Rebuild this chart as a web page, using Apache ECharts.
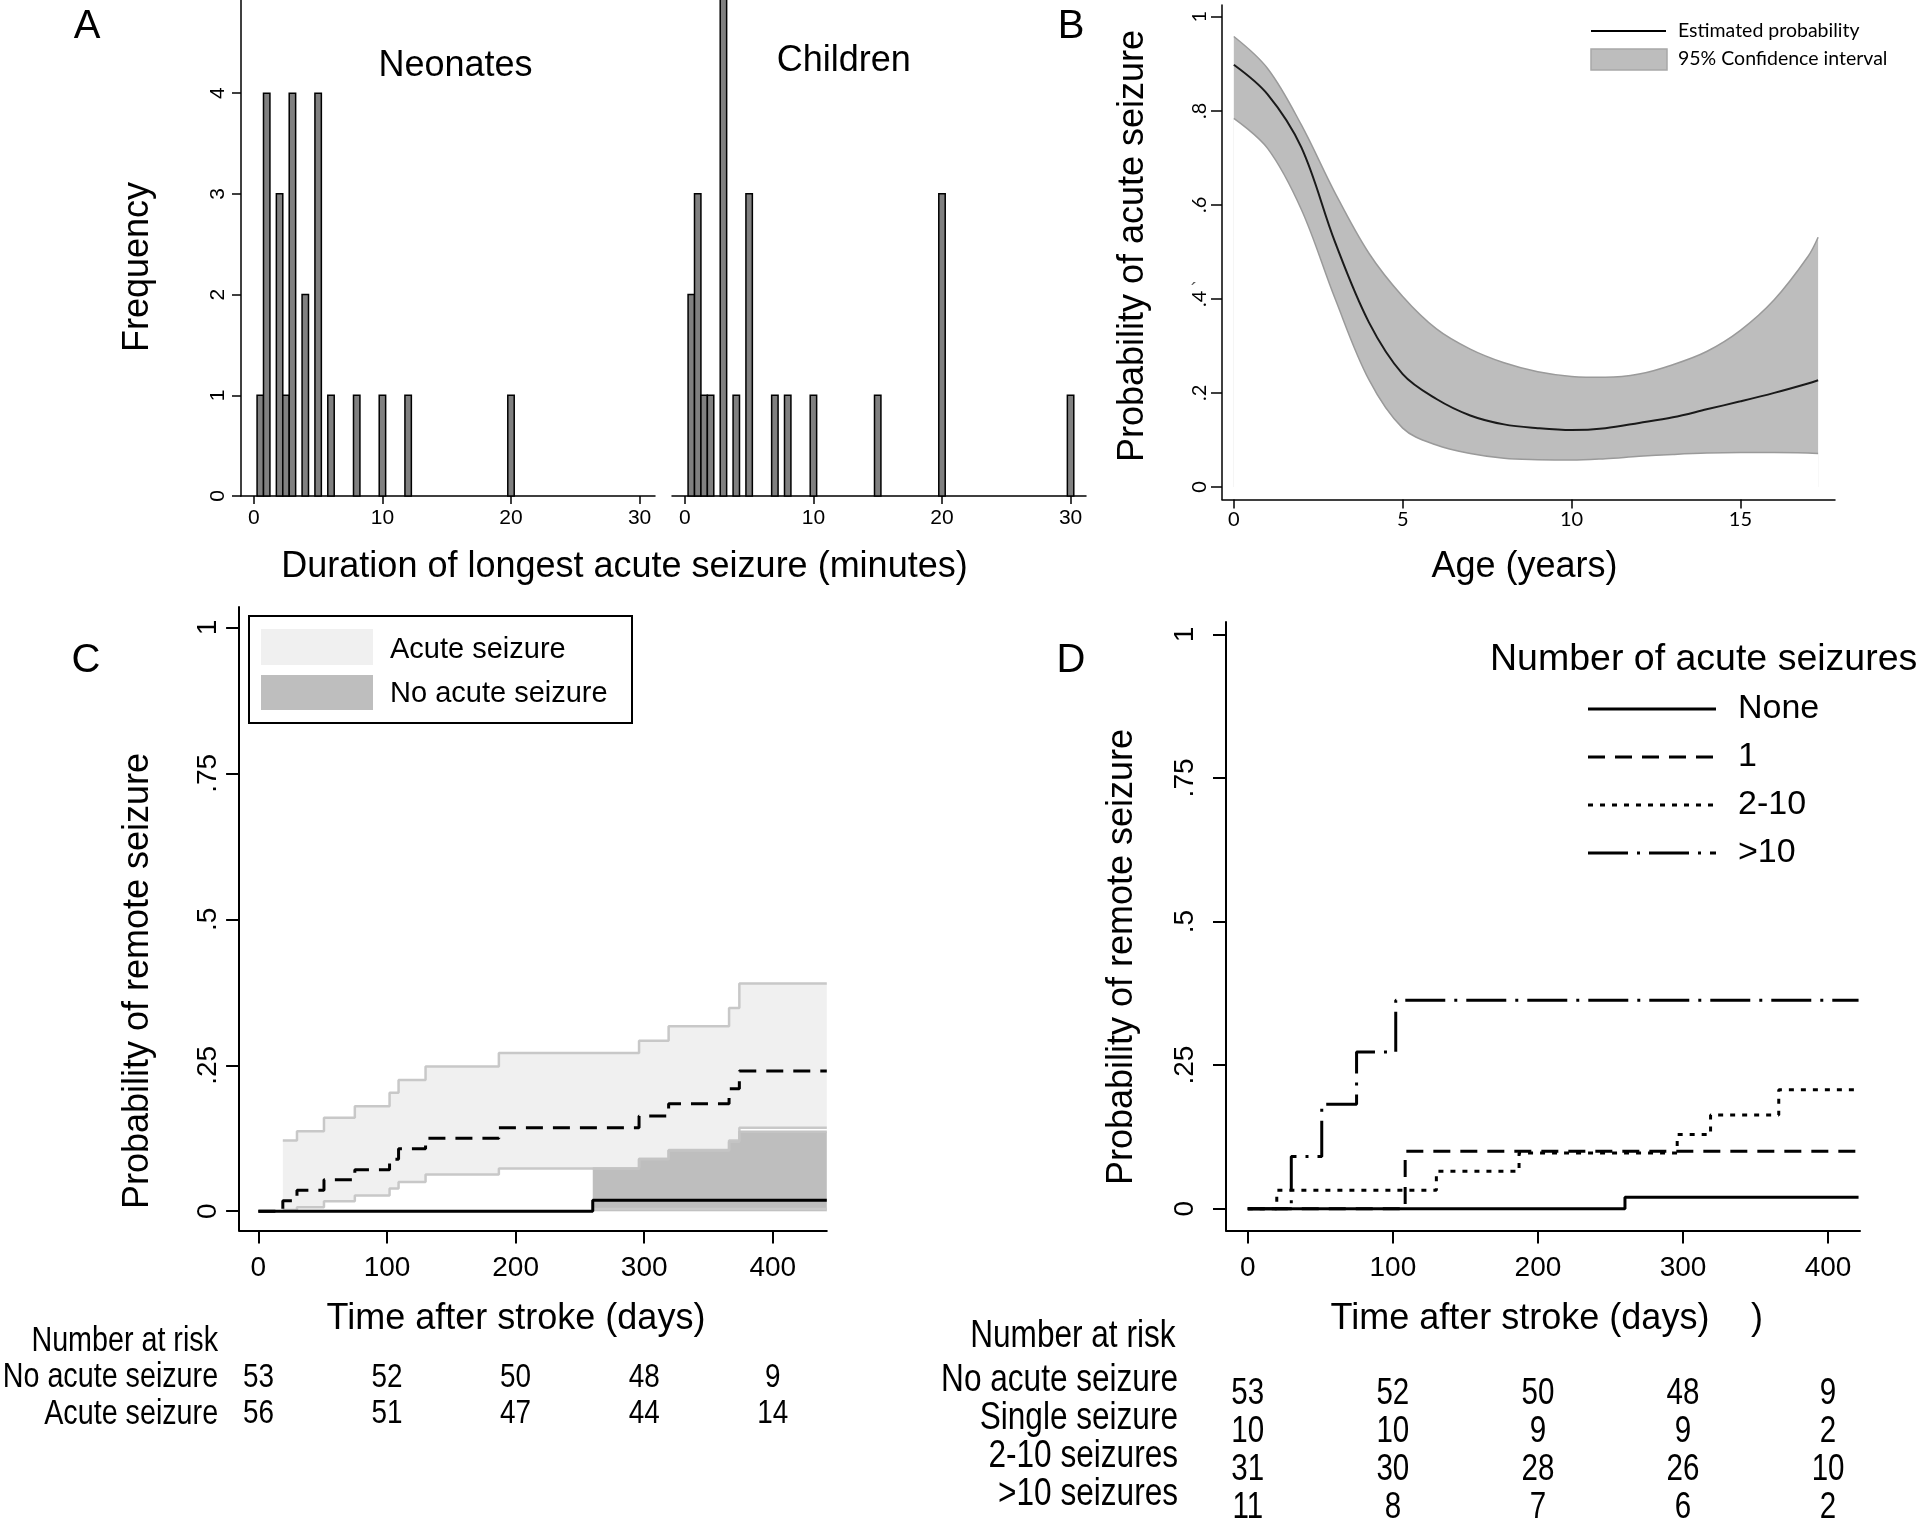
<!DOCTYPE html>
<html><head><meta charset="utf-8">
<script src="https://cdn.jsdelivr.net/npm/echarts@6/dist/echarts.min.js"></script>
<style>html,body{margin:0;padding:0;background:#fff}#c{width:1920px;height:1521px}</style>
</head><body><div id="c"></div>
<script>
// ---------- Panel A : histograms ----------
const neonatesDur  = [0.5, 1, 2, 2.5, 3, 4, 5, 6, 8, 10, 12, 20];
const neonatesFreq = [1, 4, 3, 1, 4, 2, 4, 1, 1, 1, 1, 1];
const childrenDur  = [0.5, 1, 1.5, 2, 3, 4, 5, 7, 8, 10, 15, 20, 30];
const childrenFreq = [2, 3, 1, 1, 5, 1, 3, 1, 1, 1, 1, 3, 1];
const durTicks  = [0, 10, 20, 30];
const freqTicks = [0, 1, 2, 3, 4];

// ---------- Panel B : probability by age ----------
const ageYears  = [0, 1, 2, 3, 4, 5, 6, 7, 8, 9, 10, 11, 12, 13, 14, 15, 16, 17, 17.3];
const probEst   = [0.898, 0.835, 0.722, 0.52, 0.35, 0.24, 0.187, 0.152, 0.133, 0.125, 0.121, 0.125, 0.136, 0.148, 0.165, 0.182, 0.2, 0.22, 0.227];
const probUpper = [0.958, 0.89, 0.77, 0.625, 0.497, 0.405, 0.336, 0.293, 0.264, 0.245, 0.235, 0.233, 0.24, 0.26, 0.288, 0.333, 0.398, 0.49, 0.531];
const probLower = [0.784, 0.72, 0.59, 0.40, 0.228, 0.125, 0.089, 0.071, 0.061, 0.058, 0.057, 0.06, 0.065, 0.069, 0.072, 0.073, 0.073, 0.072, 0.071];
const ageTicks  = [0, 5, 10, 15];
const probTicks = [0, 0.2, 0.4, 0.6, 0.8, 1];
const probTickLabels = ['0', '.2', '.4', '.6', '.8', '1'];

// ---------- Panel C : KM by acute seizure ----------
const kmAcuteTimes = [0, 19, 30, 51, 75, 102, 109, 130, 187, 296, 319, 366, 374, 442];
const kmAcuteVals  = [0, 0.018, 0.036, 0.054, 0.071, 0.089, 0.107, 0.125, 0.143, 0.163, 0.184, 0.21, 0.24, 0.24];
const ciAcuteTimes = [19, 30, 51, 75, 102, 109, 130, 187, 296, 319, 366, 374, 442];
const ciAcuteUpper = [0.121, 0.137, 0.16, 0.18, 0.203, 0.225, 0.248, 0.271, 0.292, 0.317, 0.348, 0.39, 0.39];
const ciAcuteLower = [0.002, 0.007, 0.017, 0.027, 0.039, 0.05, 0.063, 0.073, 0.09, 0.105, 0.121, 0.143, 0.143];
const kmNoneTimes  = [0, 260, 442];
const kmNoneVals   = [0, 0.019, 0.019];
const ciNoneTimes  = [260, 296, 319, 366, 374, 442];
const ciNoneUpper  = [0.073, 0.089, 0.104, 0.119, 0.136, 0.136];
const ciNoneLower  = [0.004, 0.004, 0.004, 0.004, 0.004, 0.004];
const dayTicks  = [0, 100, 200, 300, 400];
const survTicks = [0, 0.25, 0.5, 0.75, 1];
const survTickLabels = ['0', '.25', '.5', '.75', '1'];
const riskTimes = [0, 100, 200, 300, 400];
const riskRowsC = ['No acute seizure', 'Acute seizure'];
const riskNoAcuteC = [53, 52, 50, 48, 9];
const riskAcuteC   = [56, 51, 47, 44, 14];

// ---------- Panel D : KM by number of acute seizures ----------
const kmD_noneTimes = [0, 260, 421];
const kmD_noneVals  = [0, 0.02, 0.02];
const kmD_oneTimes  = [0, 108.5, 421];
const kmD_oneVals   = [0, 0.1, 0.1];
const kmD_twoTimes  = [0, 20, 130, 187, 296, 319, 366, 421];
const kmD_twoVals   = [0, 0.032, 0.065, 0.097, 0.129, 0.163, 0.207, 0.207];
const kmD_gtTimes   = [0, 30, 51, 75, 102, 421];
const kmD_gtVals    = [0, 0.091, 0.182, 0.273, 0.363, 0.363];
const riskRowsD = ['No acute seizure', 'Single seizure', '2-10 seizures', '>10 seizures'];
const riskD = [
  [53, 52, 50, 48, 9],
  [10, 10, 9, 9, 2],
  [31, 30, 28, 26, 10],
  [11, 8, 7, 6, 2]
];
const legendD = ['None', '1', '2-10', '>10'];

// ---------- styling ----------
const SANS = "'Liberation Sans', Arial, Helvetica, sans-serif";
const GILL = "Lato, 'Open Sans', sans-serif";
const NARROW_SCALE = 0.82;
const DASH = [17, 10];
const DOT = [5, 7];
const DASHDOT = [40, 9, 3, 9];

function vAxis(o) {
  const lw = o.lw || 1.5;
  return {
    type: 'value', gridIndex: o.grid, min: o.min, max: o.max, show: o.show !== false,
    axisLine: {show: true, onZero: false, lineStyle: {color: '#000', width: lw}},
    axisTick: {show: true, inside: false, length: o.tickLen || 9, customValues: o.ticks, lineStyle: {color: '#000', width: lw}},
    axisLabel: {show: true, customValues: o.ticks, rotate: o.rotate || 0, margin: o.margin, color: '#000',
      fontSize: o.fs, fontFamily: o.ff,
      formatter: v => { if (!o.labels) return String(v); const i = o.ticks.indexOf(v); return i >= 0 ? o.labels[i] : ''; }},
    splitLine: {show: false}, minorTick: {show: false}, minorSplitLine: {show: false}
  };
}
function histRender(params, api) {
  const x = api.value(0), y = api.value(1);
  const tl = api.coord([x - 0.25, y]);
  const br = api.coord([x + 0.25, 0]);
  return {type: 'rect', shape: {x: tl[0], y: tl[1], width: br[0] - tl[0], height: br[1] - tl[1]},
    style: {fill: '#808080', stroke: '#000', lineWidth: 1.5}};
}
function riskNumRender(fs, dy) {
  return function (params, api) {
    const p = api.coord([api.value(0), api.value(1)]);
    return {type: 'text', x: p[0], y: p[1] + dy, scaleX: NARROW_SCALE,
      style: {text: String(api.value(2)), font: fs + 'px ' + SANS, fill: '#000',
        align: 'center', verticalAlign: 'middle'}};
  };
}
function riskRowRender(names, fs, gap) {
  return function (params, api) {
    const p = api.coord([api.value(0), api.value(1)]);
    return {type: 'text', x: p[0] - gap, y: p[1], scaleX: NARROW_SCALE,
      style: {text: names[params.dataIndex], font: fs + 'px ' + SANS, fill: '#000',
        align: 'right', verticalAlign: 'middle'}};
  };
}
const pairs = (xs, ys) => xs.map((x, i) => [x, ys[i]]);
function txt(text, x, y, size, o) {
  o = o || {};
  const font = size + 'px ' + (o.ff || SANS);
  return {type: 'text', x: x, y: y, rotation: o.rot || 0, scaleX: o.sx || 1, silent: true, z: 100,
    style: {text: text, font: font, fill: o.fill || '#000',
      align: o.align || 'center', verticalAlign: 'middle', textAlign: o.align || 'center', textVerticalAlign: 'middle'}};
}
function gline(x1, y1, x2, y2, dash, w) {
  return {type: 'line', silent: true, z: 100, shape: {x1: x1, y1: y1, x2: x2, y2: y2},
    style: {stroke: '#000', lineWidth: w || 3, lineDash: dash || null}};
}
function grect(x, y, w, h, fill, stroke, lw) {
  return {type: 'rect', silent: true, z: 90, shape: {x: x, y: y, width: w, height: h},
    style: {fill: fill, stroke: stroke || null, lineWidth: lw || 0}};
}

const grids = [
  {left: 241, top: 0, width: 414, height: 496},        // 0 A neonates
  {left: 672, top: 0, width: 414, height: 496},        // 1 A children
  {left: 1222, top: 5, width: 613, height: 494.6},     // 2 B
  {left: 239.1, top: 607, width: 587.7, height: 623.5},// 3 C
  {left: 1226, top: 622, width: 634, height: 608.5},   // 4 D
  {left: 239.1, top: 1359.4, width: 587.7, height: 72.8}, // 5 C risk
  {left: 1226, top: 1361, width: 634, height: 152}     // 6 D risk
].map(g => Object.assign({containLabel: false, outerBoundsMode: 'none'}, g));

const xAxes = [
  vAxis({grid: 0, min: -1, max: 31.2, ticks: durTicks, fs: 21, ff: SANS, margin: 12, tickLen: 8}),
  vAxis({grid: 1, min: -1, max: 31.2, ticks: durTicks, fs: 21, ff: SANS, margin: 12, tickLen: 8}),
  vAxis({grid: 2, min: -0.35, max: 17.8, ticks: ageTicks, fs: 20, ff: GILL, margin: 10, tickLen: 9, lw: 1.5}),
  vAxis({grid: 3, min: -15, max: 442, ticks: dayTicks, fs: 28, ff: SANS, margin: 24, tickLen: 13, lw: 2}),
  vAxis({grid: 4, min: -15, max: 422, ticks: dayTicks, fs: 28, ff: SANS, margin: 24, tickLen: 13, lw: 2}),
  {type: 'value', gridIndex: 5, min: -15, max: 442, show: false},
  {type: 'value', gridIndex: 6, min: -15, max: 422, show: false}
];
const yAxes = [
  vAxis({grid: 0, min: 0, max: 4.925, ticks: freqTicks, fs: 21, ff: SANS, margin: 12, tickLen: 9, rotate: 90}),
  vAxis({grid: 1, min: 0, max: 4.925, ticks: freqTicks, show: false}),
  vAxis({grid: 2, min: -0.027, max: 1.025, ticks: probTicks, labels: probTickLabels, fs: 20, ff: GILL, margin: 12, tickLen: 11, rotate: 90}),
  vAxis({grid: 3, min: -0.033, max: 1.035, ticks: survTicks, labels: survTickLabels, fs: 28, ff: SANS, margin: 17, tickLen: 13, rotate: 90, lw: 2}),
  vAxis({grid: 4, min: -0.038, max: 1.0215, ticks: survTicks, labels: survTickLabels, fs: 28, ff: SANS, margin: 27, tickLen: 13, rotate: 90, lw: 2}),
  {type: 'category', gridIndex: 5, data: riskRowsC, inverse: true, axisLine: {show: false}, axisTick: {show: false}, axisLabel: {show: false}},
  {type: 'category', gridIndex: 6, data: riskRowsD, inverse: true, axisLine: {show: false}, axisTick: {show: false}, axisLabel: {show: false}}
];

const noSym = {symbol: 'none', showSymbol: false, silent: true};
const series = [
  // A
  {type: 'custom', xAxisIndex: 0, yAxisIndex: 0, renderItem: histRender, data: pairs(neonatesDur, neonatesFreq), silent: true},
  {type: 'custom', xAxisIndex: 1, yAxisIndex: 1, renderItem: histRender, data: pairs(childrenDur, childrenFreq), silent: true},
  // B : band = upper area filled grey, lower area filled white
  Object.assign({type: 'line', xAxisIndex: 2, yAxisIndex: 2, smooth: 0.35,
    data: pairs(ageYears, probUpper), lineStyle: {color: '#9a9a9a', width: 1.5},
    areaStyle: {color: '#bdbdbd', opacity: 1}}, noSym),
  Object.assign({type: 'line', xAxisIndex: 2, yAxisIndex: 2, smooth: 0.35,
    data: pairs(ageYears, probLower), lineStyle: {color: '#9a9a9a', width: 1.5},
    areaStyle: {color: '#ffffff', opacity: 1}}, noSym),
  Object.assign({type: 'line', xAxisIndex: 2, yAxisIndex: 2, smooth: 0.35,
    data: pairs(ageYears, probEst), lineStyle: {color: '#1a1a1a', width: 2}}, noSym),
  // C bands
  Object.assign({type: 'line', xAxisIndex: 3, yAxisIndex: 3, step: 'end',
    data: pairs(ciAcuteTimes, ciAcuteUpper), lineStyle: {color: '#c8c8c8', width: 2.5},
    areaStyle: {color: '#f0f0f0', opacity: 1}}, noSym),
  Object.assign({type: 'line', xAxisIndex: 3, yAxisIndex: 3, step: 'end',
    data: pairs(ciAcuteTimes, ciAcuteLower), lineStyle: {color: '#c8c8c8', width: 2.5},
    areaStyle: {color: '#ffffff', opacity: 1}}, noSym),
  Object.assign({type: 'line', xAxisIndex: 3, yAxisIndex: 3, step: 'end',
    data: pairs(ciNoneTimes, ciNoneUpper), lineStyle: {color: '#c4c4c4', width: 2.5},
    areaStyle: {color: '#bebebe', opacity: 1}}, noSym),
  Object.assign({type: 'line', xAxisIndex: 3, yAxisIndex: 3, step: 'end',
    data: pairs(ciNoneTimes, ciNoneLower), lineStyle: {color: '#cacaca', width: 2.5}}, noSym),
  // C KM lines
  Object.assign({type: 'line', xAxisIndex: 3, yAxisIndex: 3, step: 'end',
    data: pairs(kmAcuteTimes, kmAcuteVals), lineStyle: {color: '#000', width: 3, type: DASH}}, noSym),
  Object.assign({type: 'line', xAxisIndex: 3, yAxisIndex: 3, step: 'end',
    data: pairs(kmNoneTimes, kmNoneVals), lineStyle: {color: '#000', width: 3}}, noSym),
  // D KM lines
  Object.assign({type: 'line', xAxisIndex: 4, yAxisIndex: 4, step: 'end',
    data: pairs(kmD_gtTimes, kmD_gtVals), lineStyle: {color: '#000', width: 3, type: DASHDOT}}, noSym),
  Object.assign({type: 'line', xAxisIndex: 4, yAxisIndex: 4, step: 'end',
    data: pairs(kmD_twoTimes, kmD_twoVals), lineStyle: {color: '#000', width: 3, type: DOT}}, noSym),
  Object.assign({type: 'line', xAxisIndex: 4, yAxisIndex: 4, step: 'end',
    data: pairs(kmD_oneTimes, kmD_oneVals), lineStyle: {color: '#000', width: 3, type: DASH}}, noSym),
  Object.assign({type: 'line', xAxisIndex: 4, yAxisIndex: 4, step: 'end',
    data: pairs(kmD_noneTimes, kmD_noneVals), lineStyle: {color: '#000', width: 3}}, noSym)
];
// risk tables (numbers placed through the x scale of each panel, rows through a category axis)
[riskNoAcuteC, riskAcuteC].forEach((row, r) => {
  series.push({type: 'custom', xAxisIndex: 5, yAxisIndex: 5, silent: true, renderItem: riskNumRender(34, 0),
    data: riskTimes.map((t, i) => [t, r, row[i]])});
});
series.push({type: 'custom', xAxisIndex: 5, yAxisIndex: 5, silent: true, renderItem: riskRowRender(riskRowsC, 35, 21),
  data: riskRowsC.map((_, r) => [-15, r])});
riskD.forEach((row, r) => {
  series.push({type: 'custom', xAxisIndex: 6, yAxisIndex: 6, silent: true, renderItem: riskNumRender(36, 14),
    data: riskTimes.map((t, i) => [t, r, row[i]])});
});
series.push({type: 'custom', xAxisIndex: 6, yAxisIndex: 6, silent: true, renderItem: riskRowRender(riskRowsD, 38.5, 48),
  data: riskRowsD.map((_, r) => [-15, r])});

const graphics = [
  txt('A', 87, 27, 40), txt('B', 1071, 27, 40), txt('C', 86, 661, 40), txt('D', 1071, 661, 40),
  txt('Neonates', 455.5, 66, 36), txt('Children', 843.7, 61, 36),
  txt('Frequency', 138, 267, 36, {rot: Math.PI / 2}),
  txt('Duration of longest acute seizure (minutes)', 624.5, 567, 36),
  txt('Probability of acute seizure', 1133, 246, 36, {rot: Math.PI / 2}),
  txt('Age (years)', 1524.5, 567, 36),
  txt('\u00b4', 1194, 291, 20, {fill: '#555'}),
  gline(1591, 31, 1666, 31, null, 2),
  grect(1591, 49, 76, 21, '#bdbdbd', '#a8a8a8', 1.5),
  txt('Estimated probability', 1678, 31, 19.5, {align: 'left', ff: GILL}),
  txt('95% Confidence interval', 1678, 59, 19.5, {align: 'left', ff: GILL}),
  // C
  grect(249, 616, 383, 107, '#fff', '#000', 2),
  grect(261, 629, 112, 36, '#f0f0f0'),
  grect(261, 675, 112, 35, '#bebebe'),
  txt('Acute seizure', 390, 650, 29, {align: 'left'}),
  txt('No acute seizure', 390, 694, 29, {align: 'left'}),
  txt('Probability of remote seizure', 138, 981, 36, {rot: Math.PI / 2}),
  txt('Time after stroke (days)', 516, 1319, 36),
  txt('Number at risk', 218, 1341, 35, {align: 'right', sx: NARROW_SCALE}),
  // D
  txt('Probability of remote seizure', 1121.6, 957, 36, {rot: Math.PI / 2}),
  txt('Time after stroke (days)', 1520, 1319, 36),
  txt(')', 1757, 1319, 36),
  txt('Number at risk', 1175.5, 1336, 38.5, {align: 'right', sx: NARROW_SCALE}),
  txt('Number of acute seizures', 1490, 660, 37.5, {align: 'left'}),
  gline(1588, 709, 1716, 709, null, 3),
  gline(1588, 757, 1716, 757, DASH, 3),
  gline(1588, 805, 1716, 805, DOT, 3),
  gline(1588, 853, 1716, 853, DASHDOT, 3)
];
legendD.forEach((s, i) => graphics.push(txt(s, 1738, 709 + i * 48, 34, {align: 'left'})));

const chart = echarts.init(document.getElementById('c'), null, {renderer: 'canvas', width: 1920, height: 1521});
chart.setOption({
  animation: false,
  backgroundColor: '#fff',
  grid: grids,
  xAxis: xAxes,
  yAxis: yAxes,
  series: series,
  graphic: {elements: graphics}
});
</script>
</body></html>
